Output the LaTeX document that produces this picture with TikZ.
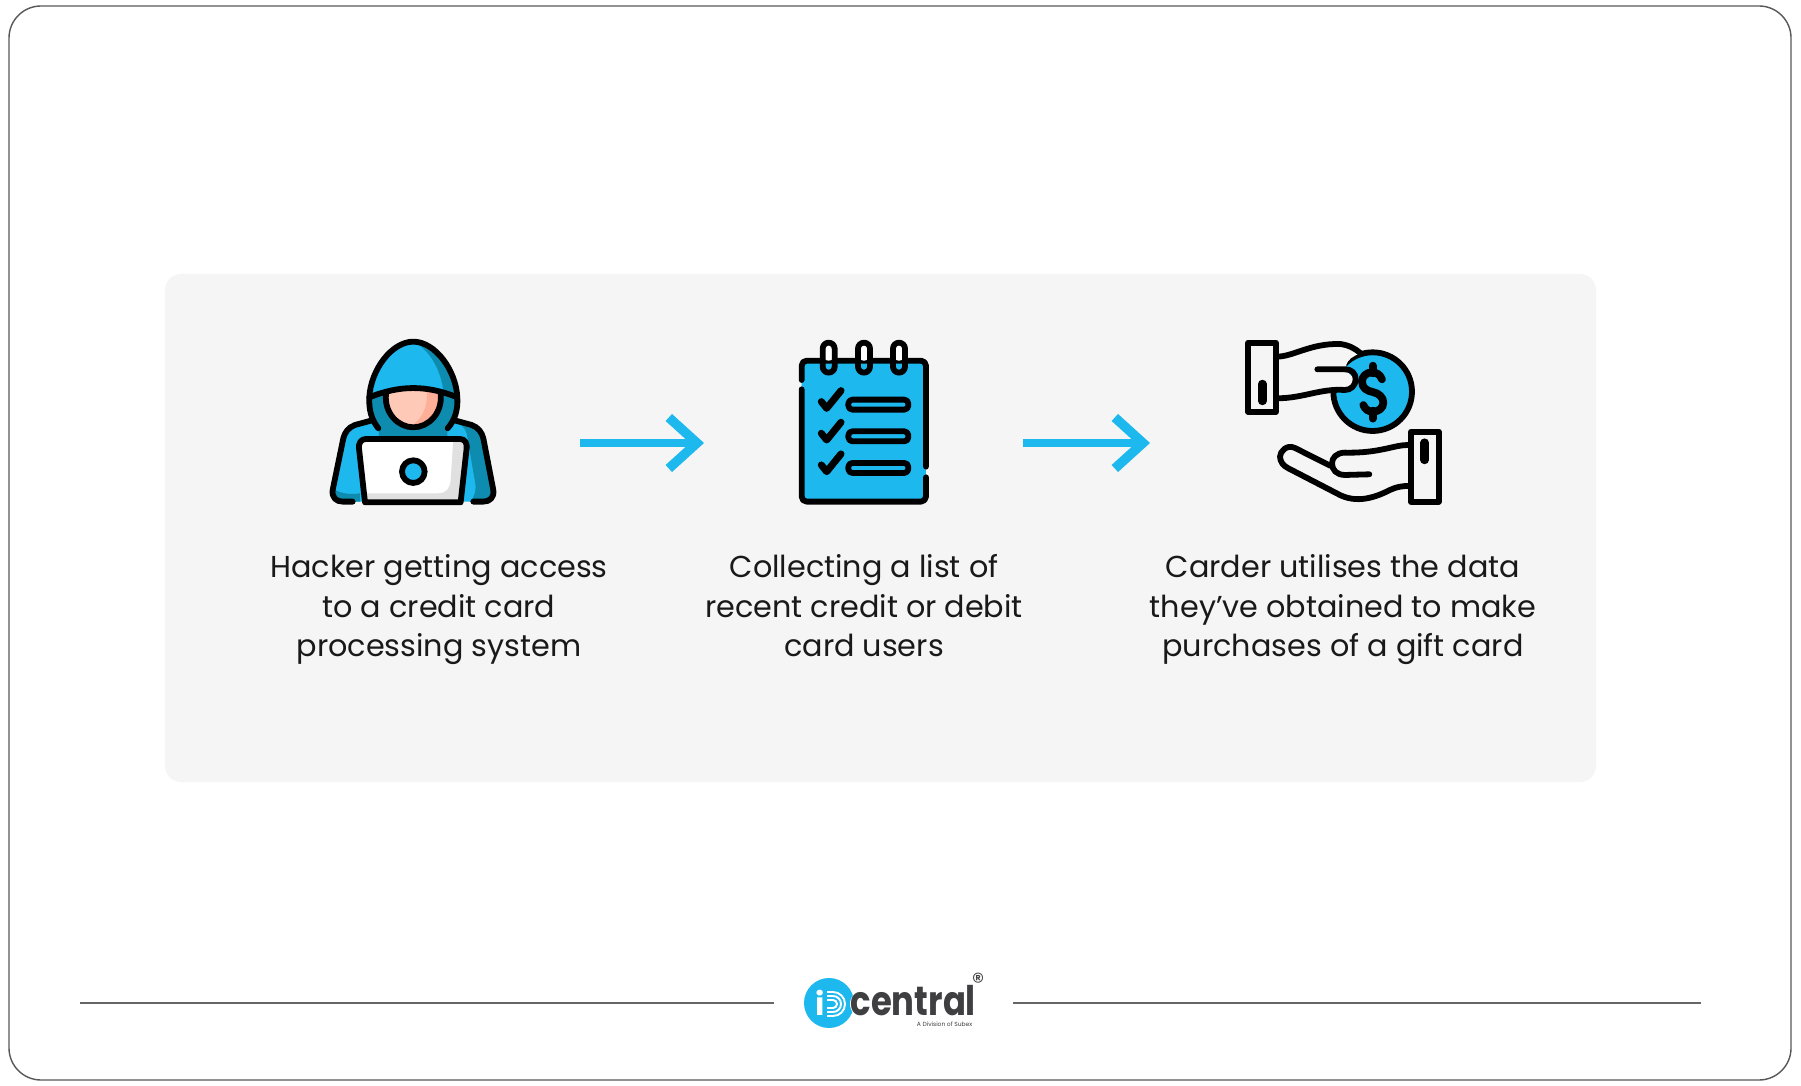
\documentclass[tikz,border=0pt]{standalone}
\usepackage{fontspec}
\setmainfont{Poppins}
\usetikzlibrary{arrows.meta}
\definecolor{cardblue}{HTML}{1CB8EE}
\definecolor{darkblue}{HTML}{0E8CB0}
\definecolor{panelgrey}{HTML}{F5F5F5}
\definecolor{skinlight}{HTML}{FFC9B8}
\definecolor{skindark}{HTML}{FFAE98}
\definecolor{screengrey}{HTML}{E0E0E0}
\definecolor{logogrey}{HTML}{3F3F41}
\tikzset{
  iconline/.style={line width=1.65pt,line cap=round,line join=round,draw=black},
  flowarrow/.style={draw=cardblue,line width=2.3pt,-{Straight Barb[length=8pt,width=14.5pt,line width=2.7pt,sharp]}},
  steptext/.style={align=center,anchor=north,inner sep=0,text=black!90,font=\fontsize{8.6pt}{11.25pt}\selectfont},
  footline/.style={draw=black!60,line width=0.45pt}
}
\begin{document}
\begin{tikzpicture}[x=0.01cm,y=-0.01cm]
    \pgfmathsetmacro{\iconscale}{1/3}
    \useasboundingbox (0,0) rectangle (1801,1086);
    \fill[white] (0,0) rectangle (1801,1086);
    \draw[draw=black!65,line width=0.4pt,rounded corners=0.32cm] (9,6) rectangle (1791,1080);
    \fill[panelgrey,rounded corners=0.16cm] (165,274) rectangle (1596,782);
    % hacker
    \begin{scope}[shift={(310,320)},x=0.01cm*\iconscale,y=-0.01cm*\iconscale]
        \fill[cardblue] (180,302) -- (130,315) .. controls (110,325) and (103,340) .. (100,355) -- (68,510) .. controls (65,535) and (80,545) .. (100,545) -- (520,545) .. controls (545,545) and (555,530) .. (550,510) -- (520,355) .. controls (515,330) and (505,318) .. (485,312) -- (440,302) -- cycle;
        \fill[darkblue] (440,305) -- (485,312) .. controls (505,318) and (515,330) .. (520,355) -- (550,510) .. controls (553,530) and (545,545) .. (520,545) -- (480,545) .. controls (495,530) and (500,510) .. (495,485) -- (470,340) .. controls (465,325) and (455,315) .. (440,305) -- cycle;
        \fill[darkblue] (70,505) .. controls (85,520) and (120,525) .. (150,520) -- (150,545) -- (100,545) .. controls (80,545) and (65,535) .. (70,505) -- cycle;
        \fill[darkblue] (180,235) .. controls (180,270) and (190,300) .. (207,325) -- (207,360) -- (412,360) -- (412,325) .. controls (430,300) and (440,270) .. (440,235) -- (310,205) -- cycle;
        \fill[skinlight] (228,222) .. controls (222,280) and (265,322) .. (310,322) .. controls (355,322) and (398,280) .. (392,222) .. controls (340,205) and (280,205) .. (228,222) -- cycle;
        \fill[skindark] (350,215) .. controls (355,260) and (335,300) .. (300,320) .. controls (355,330) and (398,280) .. (392,222) -- cycle;
        \fill[cardblue] (182,228) .. controls (185,150) and (245,65) .. (310,65) .. controls (375,65) and (435,150) .. (437,228) .. controls (350,195) and (270,195) .. (182,228) -- cycle;
        \fill[darkblue] (310,65) .. controls (375,65) and (435,150) .. (437,228) -- (400,212) .. controls (392,150) and (360,90) .. (310,65) -- cycle;
        \draw[iconline] (205,325) .. controls (185,300) and (176,270) .. (178,232) .. controls (182,150) and (245,65) .. (310,65) .. controls (375,65) and (438,150) .. (442,232) .. controls (444,270) and (435,300) .. (413,325);
        \draw[iconline] (178,232) .. controls (270,195) and (350,195) .. (442,232);
        \draw[iconline] (228,222) .. controls (222,280) and (265,322) .. (310,322) .. controls (355,322) and (398,280) .. (392,222);
        \draw[iconline] (183,302) -- (135,315) .. controls (115,322) and (104,338) .. (100,355) -- (68,510) .. controls (65,532) and (78,545) .. (98,545) -- (128,545);
        \draw[iconline] (437,302) -- (485,315) .. controls (505,322) and (516,338) .. (520,355) -- (550,510) .. controls (553,532) and (540,545) .. (520,545) -- (490,545);
        \fill[white] (168,357) -- (450,357) .. controls (465,357) and (472,370) .. (470,385) -- (452,547) -- (165,547) -- (147,385) .. controls (145,370) and (153,357) .. (168,357) -- cycle;
        \fill[screengrey] (430,357) -- (450,357) .. controls (465,357) and (472,370) .. (470,385) -- (452,547) -- (165,547) -- (162,520) -- (385,520) .. controls (410,520) and (420,505) .. (422,480) -- cycle;
        \draw[iconline] (168,357) -- (450,357) .. controls (465,357) and (472,370) .. (470,385) -- (452,547) -- (165,547) -- (147,385) .. controls (145,370) and (153,357) .. (168,357) -- cycle;
        \draw[iconline,fill=cardblue] (310,455) circle (34);
    \end{scope}
    % notebook
    \begin{scope}[shift={(780,320)},x=0.01cm*\iconscale,y=-0.01cm*\iconscale]
        \fill[cardblue,rounded corners=0.04cm] (65,122) rectangle (438,545);
        \draw[iconline] (65,180) -- (65,137) arc[start angle=180,end angle=90,x radius=15,y radius=-15] -- (423,122) arc[start angle=90,end angle=0,x radius=15,y radius=-15] -- (438,440);
        \draw[iconline] (438,472) -- (438,530) arc[start angle=0,end angle=-90,x radius=15,y radius=-15] -- (80,545) arc[start angle=-90,end angle=-180,x radius=15,y radius=-15] -- (65,208);
        \foreach \ringx in {146,252,357} {
            \fill[white,rounded corners=0.06cm] (\ringx-18,68) rectangle (\ringx+18,122);
            \draw[iconline,rounded corners=0.06cm] (\ringx-18,68) rectangle (\ringx+18,158);
        }
        \foreach \rowy in {0,95,190} {
            \draw[iconline,line width=2pt] (124,245+\rowy) -- (140,265+\rowy) -- (183,212+\rowy);
            \draw[iconline,rounded corners=0.04cm] (205,239+\rowy) rectangle (385,269+\rowy);
        }
    \end{scope}
    % hands
    \begin{scope}[shift={(1230,320)},x=0.01cm*\iconscale,y=-0.01cm*\iconscale]
        \draw[iconline,fill=cardblue] (428,215) circle (118);
        \fill[panelgrey] (140,110) .. controls (190,110) and (240,70) .. (330,72) .. controls (355,75) and (375,85) .. (392,100) .. controls (345,115) and (330,150) .. (375,175) .. controls (375,195) and (360,210) .. (345,210) .. controls (270,205) and (220,235) .. (140,235) -- cycle;
        \draw[iconline] (140,110) .. controls (190,110) and (240,70) .. (330,72) .. controls (355,75) and (375,85) .. (392,100);
        \draw[iconline] (262,148) -- (345,148) .. controls (365,148) and (377,160) .. (377,178) .. controls (377,197) and (362,210) .. (345,210) .. controls (270,205) and (220,235) .. (140,235);
        \draw[iconline,fill=panelgrey] (55,68) rectangle (137,276);
        \draw[iconline,line width=2.4pt] (97,192) -- (97,243);
        % dollar sign
        \draw[iconline,line width=2.2pt] (428,137) -- (428,160);
        \draw[iconline,line width=2.2pt] (428,272) -- (428,296);
        \draw[iconline,line width=2.2pt] (456,178) .. controls (450,162) and (437,157) .. (427,157) .. controls (408,157) and (396,170) .. (396,185) .. controls (396,205) and (412,213) .. (428,216) .. controls (447,220) and (460,232) .. (460,248) .. controls (460,265) and (445,275) .. (428,275) .. controls (415,275) and (405,268) .. (400,255);
        \draw[iconline] (535,375) .. controls (490,375) and (450,400) .. (345,398) .. controls (318,398) and (306,415) .. (306,430) .. controls (306,450) and (320,465) .. (345,465) -- (418,463);
        \draw[iconline] (300,437) -- (195,384) .. controls (170,372) and (150,395) .. (150,410) .. controls (150,425) and (160,438) .. (175,445) -- (320,520) .. controls (380,555) and (440,530) .. (480,510) .. controls (500,500) and (520,498) .. (535,498);
        \draw[iconline,fill=panelgrey] (543,335) rectangle (626,545);
        \draw[iconline,line width=2.4pt] (584,368) -- (584,420);
    \end{scope}
    % arrows
    \coordinate (hacker) at (580,443);
    \coordinate (notebook) at (704,443);
    \coordinate (list) at (1023,443);
    \coordinate (hands) at (1150,443);
    \draw[flowarrow] (hacker) -- (notebook);
    \draw[flowarrow] (list) -- (hands);
    \node[steptext] (hackertext) at (439,554) {Hacker getting access\\to a credit card\\processing system};
    \node[steptext] (listtext) at (864,554) {Collecting a list of\\recent credit or debit\\card users};
    \node[steptext] (carder) at (1343,554) {Carder utilises the data\\they’ve obtained to make\\purchases of a gift card};
    % footer
    \coordinate (footla) at (80,1003);
    \coordinate (footlb) at (774,1003);
    \coordinate (footra) at (1013,1003);
    \coordinate (footrb) at (1701,1003);
    \draw[footline] (footla) -- (footlb);
    \draw[footline] (footra) -- (footrb);
    \fill[cardblue] (829,1003) circle (25);
    \fill[white] (864,1004) circle (14);
    \node[text=white,inner sep=0,font=\fontsize{9pt}{9pt}\selectfont\bfseries] (logoi) at (820,1003) {i};
    \foreach \archr in {4,8,12} {
        \draw[white,line width=0.55pt] (827,1004-\archr) -- (833,1004-\archr) arc[start angle=90,end angle=-90,x radius=\archr,y radius=-\archr] -- (827,1004+\archr);
    }
    \node[text=logogrey,inner sep=0,anchor=west,xscale=0.83,font=\fontsize{11.6pt}{12pt}\selectfont\bfseries] (logotext) at (850,1001) {central};
    \node[text=logogrey,inner sep=0,anchor=east,font=\fontsize{1.7pt}{3pt}\selectfont] (logosub) at (973,1024) {A Division of Subex};
    \node[text=logogrey,inner sep=0,font=\fontsize{7pt}{7pt}\selectfont] (logoreg) at (978,982) {®};
\end{tikzpicture}
\end{document}
